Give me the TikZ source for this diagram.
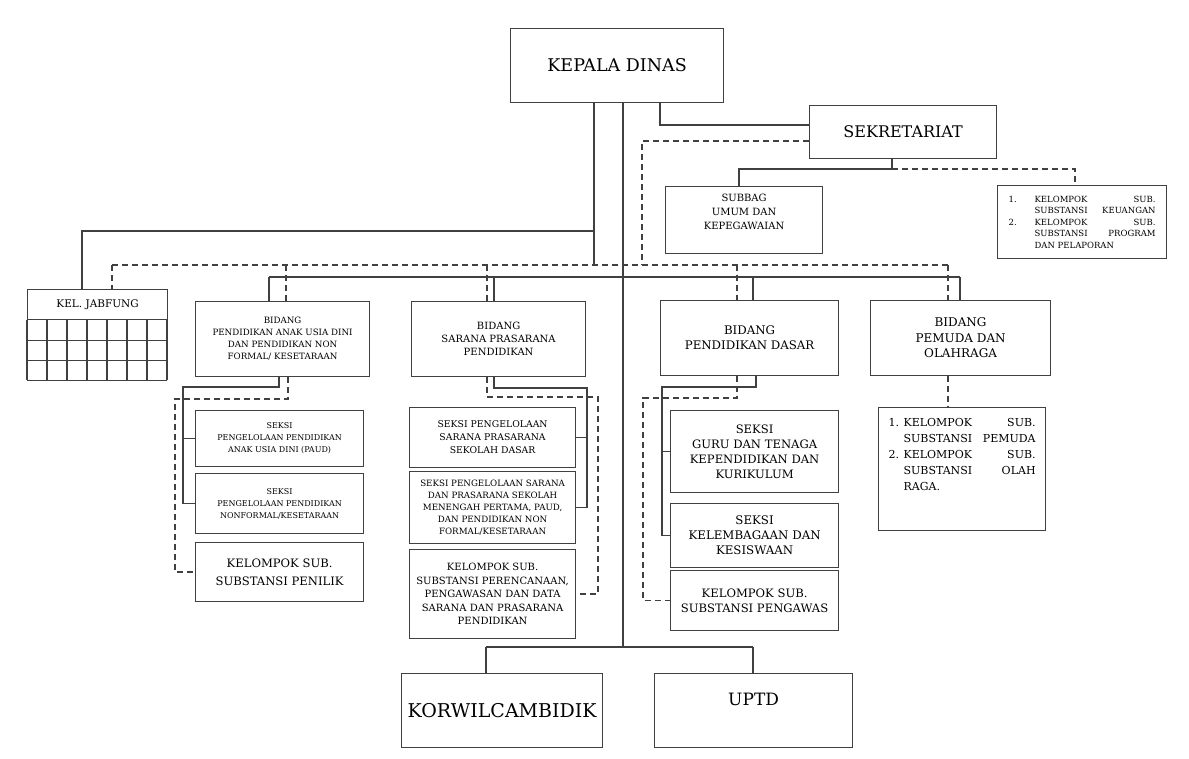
\documentclass[tikz,border=0pt]{standalone}
\usepackage{fontspec}
\setmainfont{DejaVu Serif}

\newcommand{\fs}[2]{\fontsize{#1}{#2}\selectfont}
\newcommand{\spread}[2]{\hbox to #1{#2}}

\tikzset{
	box/.style={draw=black!75, line width=1.2pt, anchor=north west, align=center, inner sep=2pt},
	conn/.style={draw=black!75, line width=1.3pt},
	coord/.style={draw=black!75, line width=1.3pt, dash pattern=on 6pt off 4pt},
	cell/.style={draw=black!75, line width=1.1pt},
}

\begin{document}
\begin{tikzpicture}[x=1pt, y=-1pt]
		\useasboundingbox (0,0) rectangle (1189,758);

		% top
		\node [box, minimum width=213pt, minimum height=74pt, font=\fs{17.5}{20}] (kepala) at (510,28) {KEPALA DINAS};
		\node [box, minimum width=187pt, minimum height=53pt, font=\fs{16}{18}] (sekre) at (809,105) {SEKRETARIAT};
		\node [box, minimum width=157pt, minimum height=67pt, text depth=17pt, font=\fs{10}{14}] (subbag) at (665,186) {SUBBAG\\UMUM DAN\\KEPEGAWAIAN};
		\node [box, minimum width=169pt, minimum height=73pt, align=left, font=\fs{8.5}{11.5}] (kelkeu) at (997,185)
			{\makebox[26pt][l]{1.}\spread{121pt}{KELOMPOK\hfill SUB.}\\
			 \hspace*{26pt}\spread{121pt}{SUBSTANSI\hfill KEUANGAN}\\
			 \makebox[26pt][l]{2.}\spread{121pt}{KELOMPOK\hfill SUB.}\\
			 \hspace*{26pt}\spread{121pt}{SUBSTANSI\hfill PROGRAM}\\
			 \hspace*{26pt}DAN PELAPORAN};

		% kel. jabfung with its grid
		\node [box, minimum width=140pt, minimum height=30pt, font=\fs{10.5}{13}] (jab) at (27,289) {KEL. JABFUNG};
		\foreach \i in {0,...,7}
			\draw [cell] ([xshift=\i*20pt]jab.south west) -- ++(0,60);
		\foreach \j in {1,2,3}
			\draw [cell] ([yshift=-\j*20pt]jab.south west) -- ++(140,0);

		% bidang
		\node [box, minimum width=174pt, minimum height=75pt, font=\fs{8.7}{12}] (paud) at (195,301) {BIDANG\\PENDIDIKAN ANAK USIA DINI\\DAN PENDIDIKAN NON\\FORMAL/ KESETARAAN};
		\node [box, minimum width=174pt, minimum height=75pt, font=\fs{10}{13}] (sarpras) at (411,301) {BIDANG\\SARANA PRASARANA\\PENDIDIKAN};
		\node [box, minimum width=178pt, minimum height=75pt, font=\fs{11.8}{15}] (dikdas) at (660,300) {BIDANG\\PENDIDIKAN DASAR};
		\node [box, minimum width=180pt, minimum height=75pt, font=\fs{12}{15.5}] (pemuda) at (870,300) {BIDANG\\PEMUDA DAN\\OLAHRAGA};

		% seksi
		\node [box, minimum width=168pt, minimum height=56pt, font=\fs{8}{12}] (paud1) at (195,410) {SEKSI\\PENGELOLAAN PENDIDIKAN\\ANAK USIA DINI (PAUD)};
		\node [box, minimum width=168pt, minimum height=60pt, font=\fs{8}{12}] (paud2) at (195,473) {SEKSI\\PENGELOLAAN PENDIDIKAN\\NONFORMAL/KESETARAAN};
		\node [box, minimum width=168pt, minimum height=59pt, font=\fs{11.6}{18}] (penilik) at (195,542) {KELOMPOK SUB.\\SUBSTANSI PENILIK};

		\node [box, minimum width=166pt, minimum height=60pt, font=\fs{9.3}{13}] (sar1) at (409,407) {SEKSI PENGELOLAAN\\SARANA PRASARANA\\SEKOLAH DASAR};
		\node [box, minimum width=166pt, minimum height=72pt, font=\fs{8.7}{12}] (sar2) at (409,471) {SEKSI PENGELOLAAN SARANA\\DAN PRASARANA SEKOLAH\\MENENGAH PERTAMA, PAUD,\\DAN PENDIDIKAN NON\\FORMAL/KESETARAAN};
		\node [box, minimum width=166pt, minimum height=89pt, font=\fs{10}{13.5}] (sar3) at (409,549) {KELOMPOK SUB.\\SUBSTANSI PERENCANAAN,\\PENGAWASAN DAN DATA\\SARANA DAN PRASARANA\\PENDIDIKAN};

		\node [box, minimum width=168pt, minimum height=82pt, font=\fs{11.6}{15}] (dik1) at (670,410) {SEKSI\\GURU DAN TENAGA\\KEPENDIDIKAN DAN\\KURIKULUM};
		\node [box, minimum width=168pt, minimum height=64pt, font=\fs{11.8}{15}] (dik2) at (670,503) {SEKSI\\KELEMBAGAAN DAN\\KESISWAAN};
		\node [box, minimum width=168pt, minimum height=60pt, font=\fs{11.6}{15}] (dik3) at (670,570) {KELOMPOK SUB.\\SUBSTANSI PENGAWAS};

		\node [box, minimum width=167pt, minimum height=123pt, align=left, text depth=30pt, font=\fs{11}{16}] (pemkel) at (878,407)
			{\makebox[15pt][l]{1.}\spread{132pt}{KELOMPOK\hfill SUB.}\\
			 \hspace*{15pt}\spread{132pt}{SUBSTANSI\hfill PEMUDA}\\
			 \makebox[15pt][l]{2.}\spread{132pt}{KELOMPOK\hfill SUB.}\\
			 \hspace*{15pt}\spread{132pt}{SUBSTANSI\hfill OLAH}\\
			 \hspace*{15pt}RAGA.};

		% bottom
		\node [box, minimum width=201pt, minimum height=74pt, font=\fs{19}{21}] (korwil) at (401,673) {KORWILCAMBIDIK};
		\node [box, minimum width=198pt, minimum height=74pt, text depth=23pt, font=\fs{17}{19}] (uptd) at (654,673) {UPTD};

		% bends
		\coordinate (kdS) at (660,125);
		\coordinate (jabK) at (594,231);
		\coordinate (trunk) at (623,647);
		\coordinate (sdA) at (642,141);
		\coordinate (busDL) at (112,265);
		\coordinate (busDR) at (948,265);
		\coordinate (busL) at (269,277);
		\coordinate (busR) at (960,277);
		\coordinate (sbS) at (892,169);
		\coordinate (korB) at (486,647);
		\coordinate (uptB) at (753,647);

		% solid lines
		\draw [conn] (kepala.south -| kdS) |- (kdS -| sekre.west);
		\draw [conn] (kepala.south -| jabK) -- (jabK |- busDL);
		\draw [conn] (jabK) -| (jab.north -| 82,0);
		\draw [conn] (kepala.south -| trunk) -- (trunk);
		\draw [conn] (korB) -- (uptB);
		\draw [conn] (korB) -- (korwil.north -| korB);
		\draw [conn] (uptB) -- (uptd.north -| uptB);
		\draw [conn] (busL) -- (busR);
		\draw [conn] (busL) -- (paud.north -| busL);
		\draw [conn] (busL -| 494,0) -- (sarpras.north -| 494,0);
		\draw [conn] (busL -| 753,0) -- (dikdas.north -| 753,0);
		\draw [conn] (busR) -- (pemuda.north -| busR);
		\draw [conn] (sekre.south -| sbS) -- (sbS) -| (subbag.north -| 739,0);

		\draw [conn] (paud.south -| 279,0) |- (183,387) |- (paud2.west);
		\draw [conn] (183,0 |- paud1.west) -- (paud1.west);
		\draw [conn] (sarpras.south -| 494,0) |- (587,388) |- (sar2.east);
		\draw [conn] (587,0 |- sar1.east) -- (sar1.east);
		\draw [conn] (dikdas.south -| 756,0) |- (662,387) |- (dik2.west);
		\draw [conn] (662,0 |- dik1.west) -- (dik1.west);

		% dashed lines
		\draw [coord] (sekre.west |- sdA) -| (sdA |- busDL);
		\draw [coord] (busDL) -- (busDR);
		\draw [coord] (busDL) -- (jab.north -| busDL);
		\draw [coord] (busDL -| 286,0) -- (paud.north -| 286,0);
		\draw [coord] (busDL -| 487,0) -- (sarpras.north -| 487,0);
		\draw [coord] (busDL -| 737,0) -- (dikdas.north -| 737,0);
		\draw [coord] (busDR) -- (pemuda.north -| busDR);
		\draw [coord] (sbS) -| (kelkeu.north -| 1075,0);
		\draw [coord] (pemuda.south -| 948,0) -- (pemkel.north -| 948,0);

		\draw [coord] (paud.south -| 288,0) |- (175,399) |- (penilik.west);
		\draw [coord] (sarpras.south -| 487,0) |- (598,397) |- (sar3.east);
		\draw [coord] (dikdas.south -| 737,0) |- (643,398) |- (dik3.west);
	\end{tikzpicture}
\end{document}
